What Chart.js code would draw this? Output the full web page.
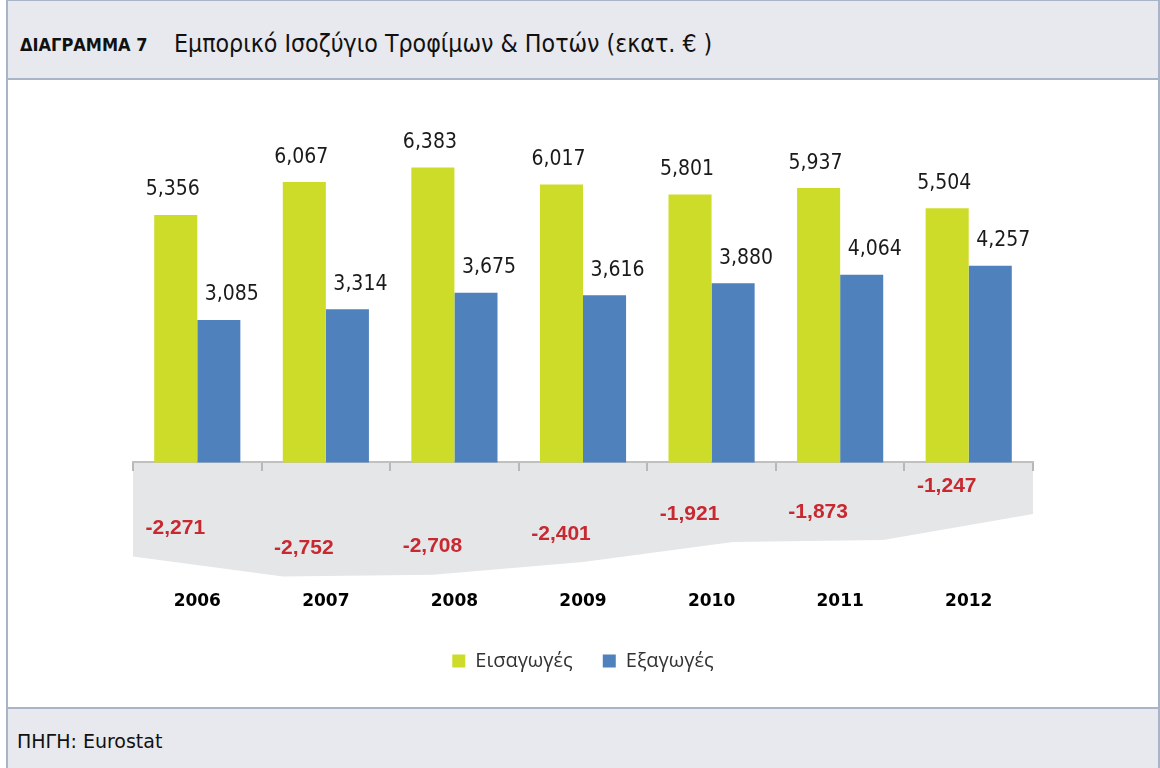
<!DOCTYPE html>
<html>
<head>
<meta charset="utf-8">
<script src="https://cdn.jsdelivr.net/npm/chart.js@4.4.1/dist/chart.umd.min.js"></script>
<style>
    html, body { margin: 0; padding: 0; width: 1160px; height: 768px; overflow: hidden; background: #fff; }
    .frame { position: absolute; left: 6px; top: 0; width: 1154px; height: 768px; box-sizing: border-box;
             border-left: 2px solid #a9b4c6; border-right: 2px solid #a9b4c6; border-top: 1px solid #a9b4c6; }
    .head { position: absolute; left: 0; top: 0; right: 0; height: 77px; background: #e8e9ee; border-bottom: 2px solid #a9b4c6; }
    .head .tag { position: absolute; left: 12px; top: 33px; font: bold 18px "DejaVu Sans Condensed", sans-serif; color: #111; }
    .head .title { position: absolute; left: 166px; top: 28px; font: 24.7px "DejaVu Sans Condensed", sans-serif; color: #111; }
    .foot { position: absolute; left: 0; right: 0; top: 706px; bottom: 0; background: #e8e9ee; border-top: 2px solid #a9b4c6; }
    .foot span { position: absolute; left: 9px; top: 21px; font: 19px "DejaVu Sans", sans-serif; color: #111; }
    .chart-box { position: absolute; left: 8px; top: 79px; width: 1148px; height: 627px; }
</style>
</head>
<body>
<div class="frame">
    <div class="head"><span class="tag">ΔΙΑΓΡΑΜΜΑ 7</span><span class="title">Εμπορικό Ισοζύγιο Τροφίμων &amp; Ποτών (εκατ. € )</span></div>
    <div class="foot"><span>ΠΗΓΗ: Eurostat</span></div>
</div>
<!-- grey balance area sits underneath the bar chart -->
<div class="chart-box"><canvas id="chart-area"></canvas></div>
<div class="chart-box"><canvas id="chart-bars"></canvas></div>

<script>
const YEARS   = ["2006", "2007", "2008", "2009", "2010", "2011", "2012"];
const IMPORTS = [5356, 6067, 6383, 6017, 5801, 5937, 5504];
const EXPORTS = [3085, 3314, 3675, 3616, 3880, 4064, 4257];
const BALANCE = [-2271, -2752, -2708, -2401, -1921, -1873, -1247];

const fmt = v => v.toLocaleString("en-US");

// ── Bars: imports / exports ────────────────────────────────────
const barLabels = {
    id: "barLabels",
    afterDatasetsDraw(chart) {
        const ctx = chart.ctx;
        ctx.save();
        ctx.textAlign = "center";
        ctx.textBaseline = "middle";
        ctx.font = '21px "DejaVu Sans Condensed", sans-serif';
        ctx.fillStyle = "#1a1a1a";
        [[0, -3], [1, 13]].forEach(([di, dx]) => {
            chart.getDatasetMeta(di).data.forEach((bar, i) => {
                ctx.fillText(fmt(chart.data.datasets[di].data[i]), bar.x + dx, bar.y - 25);
            });
        });
        ctx.restore();
    }
};

const bars = new Chart(document.getElementById("chart-bars"), {
    type: "bar",
    data: {
        labels: YEARS,
        datasets: [
            { label: "Εισαγωγές", data: IMPORTS, backgroundColor: "#cddc29", categoryPercentage: 0.67, barPercentage: 1 },
            { label: "Εξαγωγές",  data: EXPORTS, backgroundColor: "#4f81bd", categoryPercentage: 0.67, barPercentage: 1 }
        ]
    },
    options: {
        responsive: true, maintainAspectRatio: false, animation: false,
        layout: { padding: { left: 125, right: 123, top: 60, bottom: 25 } },
        plugins: {
            tooltip: { enabled: false },
            legend: {
                position: "bottom",
                labels: { boxWidth: 13, boxHeight: 13, padding: 30, color: "#333", font: { family: "Open Sans", size: 20 } }
            }
        },
        scales: {
            x: {
                offset: true, grid: { display: false, drawTicks: false }, border: { display: false },
                ticks: { color: "#000", padding: 9, font: { family: "DejaVu Sans", weight: "bold", size: 17 } }
            },
            x0: {
                type: "category", labels: YEARS, position: { y: 0 }, offset: true, z: 1,
                grid: { offset: true, drawOnChartArea: false, color: "#b8b8b8", lineWidth: 2, tickLength: 8 },
                border: { color: "#c0c0c0", width: 2 },
                ticks: { display: false }
            },
            y: { min: -2600, max: 7000, display: false }
        }
    },
    plugins: [barLabels]
});

// ── Balance area (own chart so it spans edge to edge) ─────────
const ca = bars.chartArea;
const balanceLabels = {
    id: "balanceLabels",
    afterDatasetsDraw(chart) {
        const ctx = chart.ctx, xs = bars.scales.x, ys = chart.scales.y;
        ctx.save();
        ctx.textAlign = "center";
        ctx.textBaseline = "middle";
        ctx.font = 'bold 21px "Liberation Sans", Arial, sans-serif';
        ctx.fillStyle = "#c8282f";
        BALANCE.forEach((v, i) => {
            ctx.fillText(fmt(v), xs.getPixelForValue(i) - 22, ys.getPixelForValue(v) - 28);
        });
        ctx.restore();
    }
};

new Chart(document.getElementById("chart-area"), {
    type: "line",
    data: {
        labels: YEARS,
        datasets: [{ label: "Ισοζύγιο", data: BALANCE, fill: "origin", backgroundColor: "#e5e6e8",
                     borderWidth: 0, pointRadius: 0, tension: 0 }]
    },
    options: {
        responsive: true, maintainAspectRatio: false, animation: false,
        layout: { padding: { left: ca.left, top: ca.top, right: bars.width - ca.right, bottom: bars.height - ca.bottom } },
        plugins: { legend: { display: false }, tooltip: { enabled: false } },
        scales: {
            x: { type: "category", offset: false, display: false },
            y: { min: -2900, max: 7808, display: false }
        }
    },
    plugins: [balanceLabels]
});
</script>
</body>
</html>
